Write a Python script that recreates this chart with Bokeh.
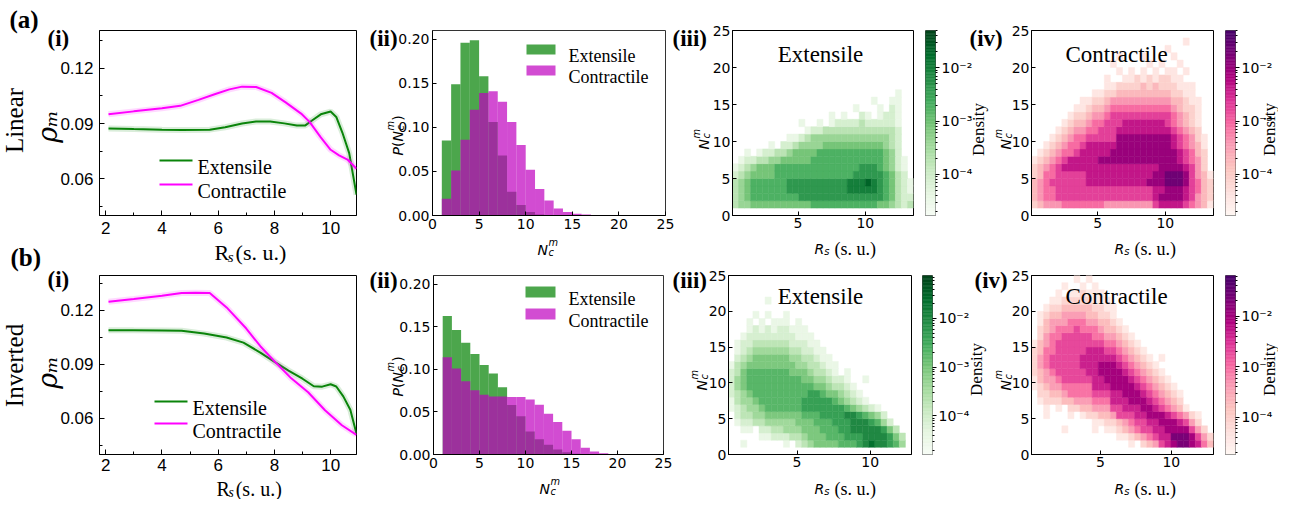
import math
from bokeh.plotting import figure
from bokeh.layouts import row, column
from bokeh.models import (Range1d, FixedTicker, NumeralTickFormatter,
                          CustomJSTickFormatter, LinearColorMapper, ColumnDataSource)
from bokeh.transform import transform
from bokeh.core.properties import value
from bokeh.embed import file_html
from bokeh.resources import INLINE

# ============================ DATA ============================
# panel (i): rho_m against R_s (s. u.)
lin_ext_x = [2.1, 3.0, 4.0, 4.7, 5.7, 6.25, 6.85, 7.35, 7.85, 8.35, 8.8, 9.1, 9.35, 9.65, 10.0, 10.2, 10.42, 10.66, 10.92]
lin_ext_y = [0.0873, 0.0870, 0.0867, 0.0865, 0.0867, 0.0880, 0.0900, 0.0911, 0.0911, 0.0901, 0.0889, 0.0890, 0.0918, 0.0950, 0.0965, 0.0936, 0.0850, 0.0740, 0.0515]
lin_con_x = [2.1, 3.0, 4.0, 4.65, 5.3, 5.9, 6.4, 6.85, 7.35, 7.9, 8.4, 8.95, 9.25, 9.65, 10.0, 10.3, 10.6, 10.92]
lin_con_y = [0.0950, 0.0966, 0.0983, 0.0996, 0.1028, 0.1060, 0.1085, 0.1100, 0.1098, 0.1066, 0.1015, 0.0954, 0.0909, 0.0825, 0.0758, 0.0728, 0.0705, 0.0655]
inv_ext_x = [2.1, 3.0, 4.0, 4.7, 5.5, 6.3, 6.9, 7.5, 8.05, 8.5, 9.0, 9.4, 9.7, 10.0, 10.2, 10.45, 10.7, 10.92]
inv_ext_y = [0.1089, 0.1088, 0.1087, 0.1086, 0.1070, 0.1048, 0.1020, 0.0965, 0.0909, 0.0865, 0.0820, 0.0778, 0.0776, 0.0789, 0.0777, 0.0722, 0.0648, 0.0515]
inv_con_x = [2.1, 3.0, 4.0, 4.7, 5.2, 5.7, 6.3, 7.0, 7.5, 8.05, 8.6, 9.2, 9.8, 10.4, 10.92]
inv_con_y = [0.1247, 0.1262, 0.1280, 0.1295, 0.1296, 0.1295, 0.1215, 0.1098, 0.1000, 0.0909, 0.0822, 0.0745, 0.0645, 0.0562, 0.0509]

# panel (ii): P(N_c^m), unit-width bins starting at N = 1
lin_ext_p = [0.085, 0.149, 0.196, 0.199, 0.158, 0.106, 0.068, 0.027, 0.012, 0.004, 0.001]
lin_con_p = [0.019, 0.051, 0.086, 0.120, 0.139, 0.141, 0.129, 0.106, 0.080, 0.052, 0.030, 0.017, 0.008, 0.004, 0.002, 0.001]
inv_ext_p = [0.1625, 0.146, 0.131, 0.118, 0.105, 0.095, 0.079, 0.058, 0.045, 0.027, 0.018, 0.0115, 0.006, 0.0025, 0.001]
inv_con_p = [0.114, 0.101, 0.086, 0.0755, 0.070, 0.068, 0.068, 0.0675, 0.0675, 0.0646, 0.0585, 0.0477, 0.038, 0.0278, 0.018, 0.008, 0.0036, 0.0014, 0.0007, 0.0003]

# panels (iii)/(iv): 2-D density, rows for N = 1, 2, 3 ... ; 30 R_s bins per row.
# run-length tokens "L" or "LxK": density level L ('.' = empty), repeated K times.
DENSITY_LEVELS = {"1": -4.45, "2": -4.1, "3": -3.75, "4": -3.4, "5": -3.05,
                  "6": -2.7, "7": -2.35, "8": -2.0, "9": -1.65}   # log10(density)

heat_lin_ext_rs = (0.13, 13.58)
heat_lin_ext = [
    "3 4x2 5x10 6x11 5x2 4 3 2 3",
    "3 4 5 6x8 7x14 6 5 3 2 2",
    "3 4 5 6x6 7x10 8x5 7 6 5 3 2 1",
    "3 4 5 6x6 7x10 8x3 9 8 7 6 5 3 2 1",
    "2 3 4 5x4 6x13 7x5 6 5 3 2 .",
    "1 2 3 4 5x3 6x14 7x3 6 5 4 2 1 .",
    ". 1 2 2 3 3 4 4 5x5 6x12 5 4 2 1 .",
    ". . 1 . 1 2 2 3 3 4 5x4 6x11 5 4 2 . .",
    ". . . . . . 1 . 2 2 3 4x4 5x10 4 3 2 . .",
    ".x9 1 1 2 3 4x13 3 2 . .",
    ".x12 1 2 2 3x12 2 . .",
    ".x11 1 . . 1 . 1 2 2 2 2 3 2 2 2 2 2 1 . .",
    ".x16 1 . 1 . . 2 1 . 1 2 2 1 . .",
    ".x20 1 . . . 1 . 2 1 . .",
    ".x23 1 . . 1 1 . .",
    ".x27 1 . .",
]
heat_lin_con_rs = (0.10, 13.56)
heat_lin_con = [
    "2 3 4x3 5x7 4x8 6 7x4 6 5 4 3 1",
    "3 4 5x2 6x16 7 8x4 7 6 4 3 2",
    "3 4 5x2 6x16 7x2 8x3 7 6 5 3 2",
    "3 4 5 6x6 7x10 8x3 9x3 8 6 5 3 2",
    "2 3 5x2 6x5 7x11 8x2 9x3 8 6 4 3 1",
    "2 3 4 5 6 7x16 8x4 7 6 4 2 .",
    "1 2 3 4 5 6 7x5 8x13 7 6 5 4 2 .",
    ". 1 2 3 4 5 5 6 7x5 8x11 7 6 5 3 2 .",
    ". . 1 2 3 4 5 5 6 7x5 8x9 7 6 5 4 3 1 .",
    ". . . 1 2 3 4 5 5 6x5 8x9 7 6 5 4 2 1 .",
    ". . . . 1 2 3 4 4 5 5 6x3 7x9 6 5 4 3 2 . .",
    ". . . . . 1 2 3 3 4 5 5 6x3 7x7 6 5 4 3 2 1 . .",
    ". . . . . . 1 2 2 3 4 4 5 6x10 5 4 3 2 1 . .",
    ". . . . . . . 1 1 2 3 3 4 5x10 4 3 2 2 1 . .",
    ".x8 1 1 2 2 3 4x10 3 3 2 1 1 . .",
    ".x10 1 1 2 2 3x9 2 2 1 1 . . .",
    ".x12 1 1 2 2 2 2 3 2 3 2 2 2 1 1 1 . . .",
    ".x12 1 . . 1 1 2 1 2 1 2 2 1 1 . . . . .",
    ".x14 1 . 1 . 1 . 1 . 1 1 . 1 . . . .",
    ".x13 1 . . . . . 1 . 1 . . 1 . . . . .",
    ".x14 1 . . . 1 . . . . 1 . . . . . .",
    ".x22 1 .x7",
    ".x25 1 .x4",
]
heat_inv_ext_rs = (0.32, 12.82)
heat_inv_ext = [
    ". . 1 .x6 1 . 2 3 4 5x4 6x3 7 8 9 8 8 7 6 4 .",
    ".x5 1 1 2 2 2 3 3 4 5x3 6x3 7x3 8x4 7 5 3 .",
    ". . 1 1 . 2 2 3 3 4x3 5x3 6x3 7x2 8x5 7 5 3 . .",
    ". 1 2 2 3 3 4x5 5x3 6x3 7x3 8x3 7 6 4 2 . . .",
    ". 2 3 3 4 4 5x6 6x3 7x4 8x2 7 6 5 4 2 . . . .",
    "1 2 3 4 4 5 6x6 7x7 6 5 4 3 2 1 .x5",
    "1 3 4 4 5 6x7 7x5 6 5 4 3 2 1 .x7",
    "2 3 4 5 6x9 7x2 6 5 5 4 3 2 1 .x8",
    "2 4 5 6x11 5 5 4 3 3 2 1 .x9",
    "2 4 5 6x9 5 5 4 4 3 2 2 1 . . 1 .x7",
    "2 3 5 6x7 5 5 5 4 3 3 2 1 . 1 .x10",
    "1 3 4 5x8 4 4 3 3 2 1 1 .x12",
    ". 2 3 4 5x6 4 4 3 3 2 1 1 .x13",
    ". 1 2 3 4x6 3 3 2 2 1 1 .x14",
    ". 1 2 2 3x6 2 2 2 1 1 .x15",
    ". . 1 2 2 2 2 2 2 2 2 1 1 1 .x16",
    ". . . 1 2 1 2 1 2 2 1 1 1 .x17",
    ". . . 1 . 1 . 1 1 1 . 1 .x18",
    ". . . . 1 . 1 . . 1 .x20",
    ".x30",
    ".x6 1 .x23",
]
heat_inv_con_rs = (0.13, 12.98)
heat_inv_con = [
    ".x16 1 . 2 3 4 6 7 8 9 9 8 7 5 3",
    ".x14 1 1 2 3 4 5 6 7 7 9 9 9 8 6 4 2",
    ".x5 1 .x4 1 . 1 1 2 3 4 5 6 6 7 7 8 8 8 8 6 4 2 .",
    ".x10 1 1 2 2 3 4 5 6 6 7 7 8 8 8 7 6 4 2 . .",
    ". . 1 . . . 1 . 1 2 2 3 3 4 6 6 6 7 7 8 8 8 7 6 5 4 2 1 . .",
    ". . 1 . 1 . 2 2 3 3 4 4 4 6 6 7 7 7 8 8 7 6 5 4 3 1 .x4",
    ". 1 2 2 2 3 3 4 4 4 5 5 5 7 7 7 8 8 8 7 6 5 4 3 2 .x5",
    ". 2 2 3 3 4 5 5 5 5 6 6 6 7 7 8 8 8 7 6 5 4 3 2 1 .x5",
    "1 2 3 4 4 5x5 7x3 8x4 7 6 5 4 3 2 1 .x6",
    "1 3 4 4 5 6x5 7x2 8x4 7 6 5 4 3 2 1 .x7",
    "2 3 4 5 6x5 7x2 8x4 7 6 5 4 3 2 1 .x8",
    "2 4 5 6x5 7x3 8x3 7 6 5 4 3 2 1 .x9",
    "2 4 5 6x5 7x6 6 5 4 3 2 1 . 1 .x8",
    "2 3 5 5 6x5 7x3 6 6 5 4 3 2 1 .x11",
    "1 3 4 5 6x8 5 5 4 3 2 1 .x12",
    ". 2 4 5 5 6x5 5 5 4 4 3 2 1 .x13",
    ". 2 3 4 5 5 5 6 5 5 5 4 3 3 2 1 .x14",
    ". 1 3 4 4 4 5 5 5 4 4 3 3 2 1 .x15",
    ". 1 2 3 3 4 4 4 4 3 3 2 2 1 .x16",
    ". . 1 2 2 3 3 3 3 3 2 2 1 1 .x16",
    ". . . 1 1 2 2 2 2 2 1 1 1 .x17",
    ". . . . 1 . 1 1 2 1 1 1 .x18",
    ".x5 1 . . 1 . 1 .x19",
    ".x7 1 . 1 .x20",
]
# colour-bar limits, log10(density)
cbar_lin = (-4.77, -1.30)
cbar_inv_ext = (-4.79, -1.12)
cbar_inv_con = (-4.73, -1.20)

# ============================ STYLE / LAYOUT ============================
SERIF, SANS, ARIAL = "Liberation Serif", "DejaVu Sans", "Liberation Sans"
EXT_LINE, CON_LINE = "#0a840a", "#ff00ff"
EXT_FILL, CON_FILL = "#008000", "#bf00bf"
GREENS9 = ['#f7fcf5', '#e5f5e0', '#c7e9c0', '#a1d99b', '#74c476', '#41ab5d', '#238b45', '#006d2c', '#00441b']
RDPU9 = ['#fff7f3', '#fde0dd', '#fcc5c0', '#fa9fb5', '#f768a1', '#dd3497', '#ae017e', '#7a0177', '#49006a']

W, H, OFF = 1278, 499, 8
ROW_Y = [(8, 270), (270, 507)]      # page pixels (page includes the 8 px body margin)


def interp_palette(hex9, n=256):
    cols = [tuple(int(h[i:i + 2], 16) for i in (1, 3, 5)) for h in hex9]
    out = []
    for k in range(n):
        t = k / (n - 1) * (len(cols) - 1)
        i = min(int(t), len(cols) - 2)
        f = t - i
        c = [round(cols[i][m] * (1 - f) + cols[i + 1][m] * f) for m in range(3)]
        out.append("#%02x%02x%02x" % tuple(c))
    return out


GREENS = interp_palette(GREENS9)
RDPU = interp_palette(RDPU9)


def make_panel(canvas, ri, frame, xr, yr, **kw):
    cx0, cx1 = canvas
    cy0, cy1 = ROW_Y[ri]
    l, r, t, b = frame
    p = figure(width=cx1 - cx0, height=cy1 - cy0, output_backend="svg", toolbar_location=None,
               x_range=Range1d(*xr), y_range=Range1d(*yr),
               min_border_left=l - cx0, min_border_right=cx1 - r,
               min_border_top=t - cy0, min_border_bottom=cy1 - b,
               background_fill_color=None, border_fill_color=None,
               outline_line_color="black", outline_line_width=1, **kw)
    p.grid.visible = False
    return p


def style_axes(p, font, size, tin, minor_in=0, standoff=3):
    for ax in p.axis:
        ax.major_label_text_font = font
        ax.major_label_text_font_size = f"{size}px"
        ax.major_label_text_color = "black"
        ax.major_tick_in = tin
        ax.major_tick_out = 0
        ax.minor_tick_in = minor_in
        ax.minor_tick_out = 0
        ax.major_label_standoff = standoff
        ax.axis_line_color = "black"
        ax.major_tick_line_color = "black"
        ax.minor_tick_line_color = "black"


def line_panel(canvas, ri, frame, yr, ex, ey, cx, cy, standoff=6):
    p = make_panel(canvas, ri, frame, (1.78, 10.92), yr)
    for xs, ys, c in ((ex, ey, EXT_LINE), (cx, cy, CON_LINE)):
        p.line(xs, ys, color=c, line_width=6, line_alpha=0.15)
        p.line(xs, ys, color=c, line_width=2)
    p.xaxis.ticker = FixedTicker(ticks=[2, 4, 6, 8, 10], minor_ticks=[3, 5, 7, 9])
    p.yaxis.ticker = FixedTicker(ticks=[0.06, 0.09, 0.12], minor_ticks=[0.045, 0.075, 0.105, 0.135])
    p.yaxis.formatter = NumeralTickFormatter(format="0.00")
    style_axes(p, ARIAL, 17, 5, 3, standoff=6)
    p.xaxis.major_label_standoff = standoff
    return p


def hist_panel(canvas, ri, frame, ext, con):
    p = make_panel(canvas, ri, frame, (0, 25), (0, 0.21))
    p.outline_line_color = "#333333"
    for vals, c in ((ext, EXT_FILL), (con, CON_FILL)):
        left = list(range(1, 1 + len(vals)))
        p.quad(left=left, right=[v + 1 for v in left], bottom=0, top=vals,
               fill_color=c, fill_alpha=0.7, line_color=None)
    p.xaxis.ticker = FixedTicker(ticks=[0, 5, 10, 15, 20, 25])
    p.yaxis.ticker = FixedTicker(ticks=[0, 0.05, 0.10, 0.15, 0.20])
    p.yaxis.formatter = NumeralTickFormatter(format="0.00")
    style_axes(p, SANS, 14, 4, standoff=3)
    return p


def decode(rows):
    out = []
    for r in rows:
        s = ""
        for tok in r.split():
            if "x" in tok:
                ch, n = tok.split("x")
                s += ch * int(n)
            else:
                s += tok
        out.append(s.ljust(30, ".")[:30])
    return out


def heat_panel(canvas, ri, frame, rows, xr, pal, lim):
    p = make_panel(canvas, ri, frame, xr, (0, 25))
    x0, x1 = xr
    dx = (x1 - x0) / 30.0
    L, R, B, T_, V = [], [], [], [], []
    for i, s in enumerate(decode(rows)):
        n = i + 1
        for j, ch in enumerate(s):
            if ch == ".":
                continue
            L.append(x0 + j * dx); R.append(x0 + (j + 1) * dx)
            B.append(n); T_.append(n + 1); V.append(DENSITY_LEVELS[ch])
    src = ColumnDataSource(dict(left=L, right=R, bottom=B, top=T_, logd=V))
    mapper = LinearColorMapper(palette=pal, low=lim[0], high=lim[1])
    p.quad(left="left", right="right", bottom="bottom", top="top", source=src,
           fill_color=transform("logd", mapper), line_color=transform("logd", mapper),
           line_width=0.5)
    p.xaxis.ticker = FixedTicker(ticks=[5, 10])
    p.yaxis.ticker = FixedTicker(ticks=[0, 5, 10, 15, 20, 25])
    style_axes(p, SANS, 14, 4, standoff=2)
    return p


SUP_JS = """
const e = Math.round(Math.log10(tick));
const sup = {"-": "\u207b", "0": "\u2070", "1": "\u00b9", "2": "\u00b2", "3": "\u00b3",
             "4": "\u2074", "5": "\u2075", "6": "\u2076", "7": "\u2077", "8": "\u2078", "9": "\u2079"};
return "10" + String(e).split("").map(c => sup[c]).join("");
"""


def cbar_panel(canvas, ri, frame, pal, lim):
    lo, hi = lim
    p = make_panel(canvas, ri, frame, (0, 1), (10 ** lo, 10 ** hi), y_axis_type="log",
                   y_axis_location="right", x_axis_location=None)
    p.outline_line_color = "#555555"
    nseg = 128
    edges = [10 ** (lo + (hi - lo) * k / nseg) for k in range(nseg + 1)]
    cols = [pal[int(round(k * (len(pal) - 1) / (nseg - 1)))] for k in range(nseg)]
    p.quad(left=0, right=1, bottom=edges[:-1], top=edges[1:], fill_color=cols,
           line_color=cols, line_width=0.5)
    minors = [m * 10.0 ** e for e in (-5, -4, -3, -2) for m in range(2, 10)
              if lo <= math.log10(m * 10.0 ** e) <= hi]
    ax = p.yaxis[0]
    ax.ticker = FixedTicker(ticks=[1e-4, 1e-3, 1e-2], minor_ticks=minors)
    ax.formatter = CustomJSTickFormatter(code=SUP_JS)
    ax.major_label_text_font = SANS
    ax.major_label_text_font_size = "14px"
    ax.major_label_text_color = "black"
    ax.major_tick_out = 4
    ax.major_tick_in = 0
    ax.minor_tick_out = 2
    ax.minor_tick_in = 0
    ax.axis_line_color = None
    ax.major_label_standoff = 2
    return p


# row (a): linear
row_a = [
    line_panel((8, 370), 0, (107, 364, 36, 223), (0.0402, 0.1404), lin_ext_x, lin_ext_y, lin_con_x, lin_con_y),
    hist_panel((370, 717), 0, (440, 673, 38, 231), lin_ext_p, lin_con_p),
    heat_panel((717, 927), 0, (738, 921, 38, 235), heat_lin_ext, heat_lin_ext_rs, GREENS, cbar_lin),
    cbar_panel((927, 1016), 0, (933, 943, 38, 235), GREENS, cbar_lin),
    heat_panel((1016, 1227), 0, (1037, 1221, 38, 235), heat_lin_con, heat_lin_con_rs, RDPU, cbar_lin),
    cbar_panel((1227, 1286), 0, (1233, 1243, 38, 235), RDPU, cbar_lin),
]
# row (b): inverted
row_b = [
    line_panel((8, 370), 1, (107, 364, 283, 462), (0.0400, 0.1392), inv_ext_x, inv_ext_y, inv_con_x, inv_con_y,
               standoff=4),
    hist_panel((370, 713), 1, (441, 671, 281, 470), inv_ext_p, inv_con_p),
    heat_panel((713, 925), 1, (734, 919, 281, 475), heat_inv_ext, heat_inv_ext_rs, GREENS, cbar_inv_ext),
    cbar_panel((925, 1016), 1, (930, 940, 281, 475), GREENS, cbar_inv_ext),
    heat_panel((1016, 1227), 1, (1037, 1221, 281, 475), heat_inv_con, heat_inv_con_rs, RDPU, cbar_inv_con),
    cbar_panel((1227, 1286), 1, (1233, 1243, 281, 475), RDPU, cbar_inv_con),
]

# ---------------- transparent text layer laid over both rows (page pixels) ----------------
tl = figure(width=W, height=H, output_backend="svg", toolbar_location=None,
            x_range=Range1d(0, W), y_range=Range1d(0, H), min_border=0,
            x_axis_location=None, y_axis_location=None, outline_line_color=None,
            background_fill_color=None, border_fill_color=None)
tl.grid.visible = False
tl.margin = (-H, 0, 0, 0)
UP = math.pi / 2


def X(x):
    return x - OFF


def Y(y):
    return H - (y - OFF)


def T(x, y, s, size, font=SERIF, style="normal", angle=0.0, align="left", baseline="alphabetic"):
    tl.text(x=[X(x)], y=[Y(y)], text=[s], text_font=value(font),
            text_font_size=value(f"{size:.1f}px"), text_font_style=style, angle=angle,
            text_align=align, text_baseline=baseline, text_color="black")


def ncm_h(x, b, size=14):
    T(x, b, "N", size, SANS, "italic")
    T(x + 0.78 * size, b - 0.5 * size, "m", 0.7 * size, SANS, "italic")
    T(x + 0.78 * size, b + 0.22 * size, "c", 0.7 * size, SANS, "italic")


def ncm_v(xb, yb, size=14):
    T(xb, yb, "N", size, SANS, "italic", UP)
    T(xb - 0.5 * size, yb - 0.78 * size, "m", 0.7 * size, SANS, "italic", UP)
    T(xb + 0.2 * size, yb - 0.78 * size, "c", 0.7 * size, SANS, "italic", UP)


def pn_v(xb, yb, size=14):
    T(xb, yb, "P", size, SANS, "italic", UP)
    T(xb, yb - 0.6 * size, "(", size, SANS, "normal", UP)
    T(xb, yb - 1.0 * size, "N", size, SANS, "italic", UP)
    T(xb - 0.5 * size, yb - 1.78 * size, "m", 0.7 * size, SANS, "italic", UP)
    T(xb + 0.2 * size, yb - 1.78 * size, "c", 0.7 * size, SANS, "italic", UP)
    T(xb, yb - 2.48 * size, ")", size, SANS, "normal", UP)


def rs_h(x, b):
    T(x, b, "R", 14, SANS, "italic")
    T(x + 9.8, b + 3, "s", 10, SANS, "italic")
    T(x + 20, b, "(s. u.)", 18, SERIF)


def rs_serif(x, b, size=22):
    T(x, b, "R", size, SERIF)
    T(x + 0.6 * size, b + 4, "s", 0.68 * size, SERIF, "italic")
    T(x + 0.96 * size, b, "(s. u.)", size, SERIF)


# panel letters
T(17, 27, "(a)", 25, SERIF, "bold")
T(18, 265, "(b)", 25, SERIF, "bold")
for x, b, s in [(55, 46, "(i)"), (377, 46, "(ii)"), (680, 46, "(iii)"), (977, 46, "(iv)"),
                (55, 287, "(i)"), (377, 288, "(ii)"), (680, 288, "(iii)"), (982, 288, "(iv)")]:
    T(x, b, s, 23, SERIF, "bold")

# row names and rho_m
T(22, 128, "Linear", 25, SERIF, "normal", UP, "center", "middle")
T(22, 373, "Inverted", 25, SERIF, "normal", UP, "center", "middle")
T(55, 134, "\u03c1\u2098", 27, "DejaVu Serif", "italic", UP, "center", "middle")
T(55, 380, "\u03c1\u2098", 27, "DejaVu Serif", "italic", UP, "center", "middle")

# (i) x labels and legends
rs_serif(222, 260)
rs_serif(224, 496, 20)
for (x0, x1, ya, yb_, tb1, tb2) in ((167, 200, 168, 192, 174, 198), (162, 195, 409, 431, 415, 438)):
    tl.line([X(x0), X(x1)], [Y(ya), Y(ya)], color=EXT_LINE, line_width=2)
    tl.line([X(x0), X(x1)], [Y(yb_), Y(yb_)], color=CON_LINE, line_width=2)
    T(x1 + 5, tb1, "Extensile", 20, SERIF)
    T(x1 + 5, tb2, "Contractile", 20, SERIF)

# (ii) axis labels and legends
pn_v(405, 163)
pn_v(405, 404)
ncm_h(545, 257)
ncm_h(547, 496)
for (x0, x1, y1a, y1b, y2a, y2b, tb1, tb2) in ((534, 563, 52, 62, 73, 83, 63, 84),
                                               (533, 563, 294, 305, 316, 327, 306, 328)):
    tl.quad(left=[X(x0)], right=[X(x1)], top=[Y(y1a)], bottom=[Y(y1b)], fill_color=EXT_FILL,
            fill_alpha=0.7, line_color=None)
    tl.quad(left=[X(x0)], right=[X(x1)], top=[Y(y2a)], bottom=[Y(y2b)], fill_color=CON_FILL,
            fill_alpha=0.7, line_color=None)
    T(x1 + 13, tb1, "Extensile", 18, SERIF)
    T(x1 + 13, tb2, "Contractile", 18, SERIF)

# (iii)/(iv) axis labels, titles, colour-bar labels
ncm_v(711, 157)
ncm_v(709, 398)
ncm_v(1013, 157)
ncm_v(1013, 398)
rs_h(822, 256)
rs_h(1122, 256)
rs_h(822, 496)
rs_h(1122, 496)
T(828, 62, "Extensile", 23, SERIF, align="center")
T(1124, 62, "Contractile", 23, SERIF, align="center")
T(828, 304, "Extensile", 23, SERIF, align="center")
T(1124, 304, "Contractile", 23, SERIF, align="center")
for x, y in ((986, 137), (1277, 137), (984, 377), (1277, 377)):
    T(x, y, "Density", 17, SERIF, "normal", UP, "center", "middle")

layout = column(row(*row_a), row(*row_b), tl, width=W, height=H)
try:
    from bokeh.models import GlobalInlineStyleSheet
    layout.stylesheets = [GlobalInlineStyleSheet(css="html, body { overflow: hidden; }")]
except Exception:
    pass
open("out.html", "w", encoding="utf-8").write(file_html(layout, INLINE))
